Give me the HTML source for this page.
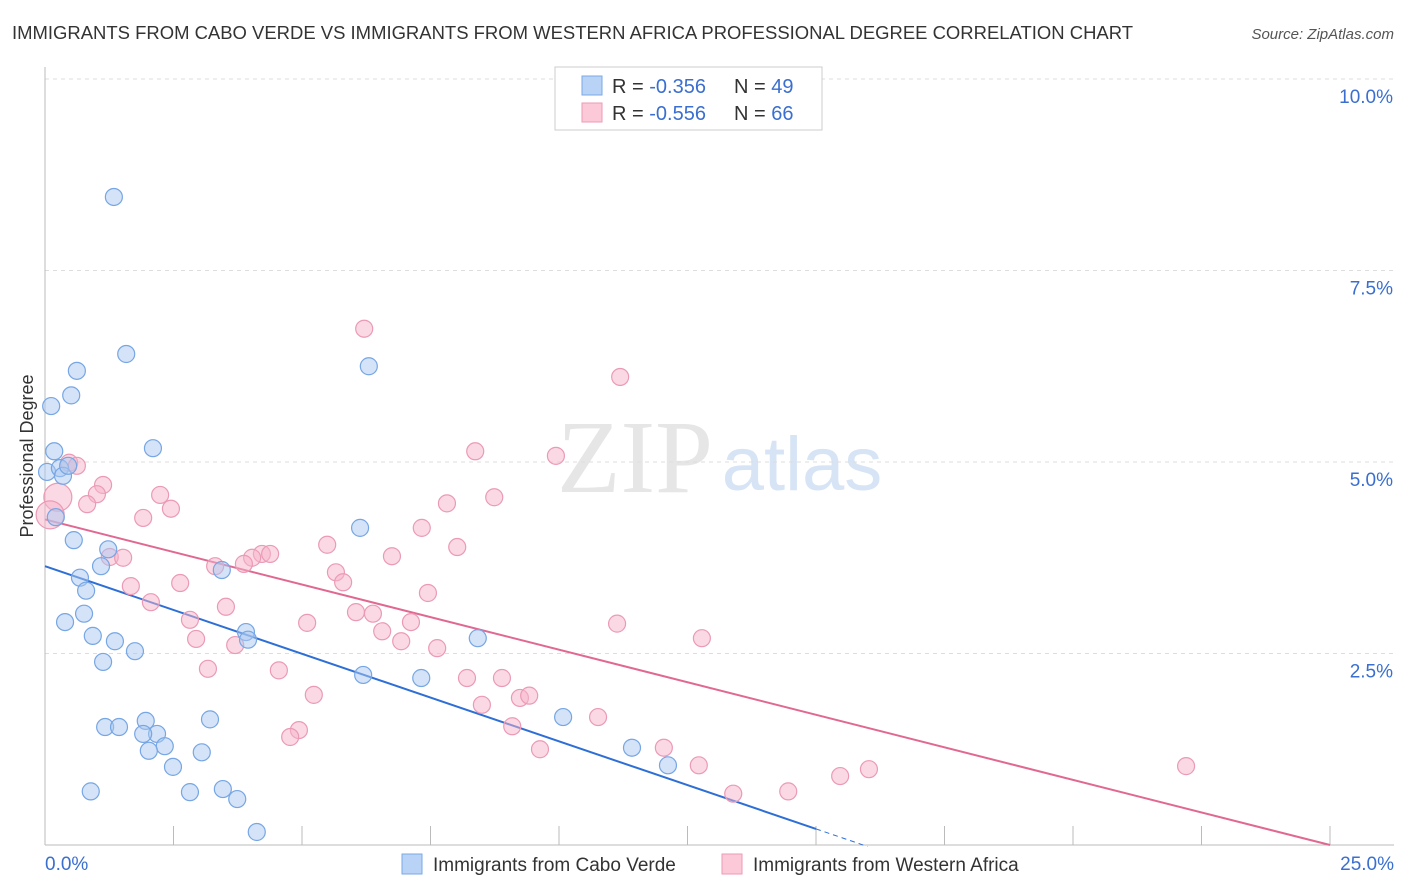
<!DOCTYPE html>
<html><head><meta charset="utf-8"><style>
body{margin:0;background:#fff;font-family:"Liberation Sans",sans-serif}
svg{display:block}
</style></head><body>
<svg id="chart" width="1406" height="892">
<text x="12" y="39" font-size="18" fill="#333" textLength="1121" lengthAdjust="spacingAndGlyphs">IMMIGRANTS FROM CABO VERDE VS IMMIGRANTS FROM WESTERN AFRICA PROFESSIONAL DEGREE CORRELATION CHART</text>
<text x="1394" y="39" font-size="15" fill="#555" font-style="italic" text-anchor="end">Source: ZipAtlas.com</text>
<text x="635" y="492" font-size="104" fill="#e6e6e6" text-anchor="middle" font-family="Liberation Serif,serif">ZIP</text>
<text x="802" y="490" font-size="76" fill="#d6e4f5" text-anchor="middle">atlas</text>
<g id="grid"></g><g id="axes"></g><g id="lines"></g><g id="pts"></g>
<text x="33" y="456" font-size="18" fill="#333" text-anchor="middle" transform="rotate(-90 33 456)">Professional Degree</text>
<g>
<rect x="555" y="67" width="267" height="63" fill="#fff" stroke="#ccc"/>
<rect x="582" y="76" width="20" height="19" fill="#b8d3f5" stroke="#7aa8e6"/>
<rect x="582" y="103" width="20" height="19" fill="#fbc9d8" stroke="#ec9ab5"/>
<text x="612" y="93" font-size="20" fill="#333">R = <tspan fill="#3a6fd0">-0.356</tspan><tspan x="734">N = </tspan><tspan fill="#3a6fd0">49</tspan></text>
<text x="612" y="120" font-size="20" fill="#333">R = <tspan fill="#3a6fd0">-0.556</tspan><tspan x="734">N = </tspan><tspan fill="#3a6fd0">66</tspan></text>
</g>
<g>
<rect x="402" y="854" width="20" height="20" fill="#b8d3f5" stroke="#7aa8e6"/>
<text x="433" y="871" font-size="19" fill="#333">Immigrants from Cabo Verde</text>
<rect x="722" y="854" width="20" height="20" fill="#fbc9d8" stroke="#ec9ab5"/>
<text x="753" y="871" font-size="19" fill="#333">Immigrants from Western Africa</text>
</g>
</svg>
<script>
const blueX=[1.34,1.58,0.62,0.51,0.12,0.18,2.10,0.04,0.29,0.35,0.45,0.21,0.56,1.23,0.68,1.09,0.80,3.44,0.76,0.39,0.93,1.36,1.75,1.13,3.91,3.95,6.13,6.30,8.42,6.19,7.32,10.08,11.42,12.12,1.17,1.44,1.96,2.18,1.91,2.33,2.02,2.49,3.05,3.21,0.89,2.82,3.46,3.74,4.12];
const blueY=[8.46,6.41,6.19,5.87,5.73,5.14,5.18,4.87,4.92,4.82,4.95,4.28,3.98,3.86,3.49,3.64,3.32,3.59,3.02,2.91,2.73,2.66,2.53,2.39,2.78,2.68,4.14,6.25,2.70,2.22,2.18,1.67,1.27,1.04,1.54,1.54,1.62,1.45,1.45,1.29,1.23,1.02,1.21,1.64,0.70,0.69,0.73,0.60,0.17];
const pinkX=[6.21,11.19,8.37,9.94,0.47,0.62,0.25,0.10,1.13,1.01,0.82,2.24,2.45,1.91,8.74,7.82,7.33,5.49,8.02,6.75,1.26,1.52,4.22,4.38,4.03,3.87,3.31,5.66,5.80,2.63,1.67,7.45,2.06,3.52,6.05,6.38,2.82,5.10,7.12,6.56,2.94,3.70,6.93,7.63,11.13,12.78,3.17,4.55,8.21,8.89,5.23,9.24,9.42,8.50,10.76,4.94,4.77,9.09,9.63,12.04,12.72,16.03,15.47,22.20,13.39,14.46];
const pinkY=[6.74,6.11,5.14,5.08,4.99,4.95,4.54,4.31,4.70,4.58,4.45,4.57,4.39,4.27,4.54,4.46,4.14,3.92,3.89,3.77,3.76,3.75,3.80,3.80,3.75,3.67,3.64,3.56,3.43,3.42,3.38,3.29,3.17,3.11,3.04,3.02,2.94,2.90,2.91,2.79,2.69,2.61,2.66,2.57,2.89,2.70,2.30,2.28,2.18,2.18,1.96,1.92,1.95,1.83,1.67,1.50,1.41,1.55,1.25,1.27,1.04,0.99,0.90,1.03,0.67,0.70];
const pinkBig=[0,0,0,0,0,0,1,1];
const blueTrend=[3.64,0.21];
const blueTrendX=[0,15,16];
const pinkTrend=[4.25,0.0];
const pinkTrendX=[0,25];
const yTicks=[2.5,5.0,7.5,10.0];
const yTickLabels=["2.5%","5.0%","7.5%","10.0%"];
const xTicks=[0,2.5,5,7.5,10,12.5,15,17.5,20,22.5,25];
const NS="http://www.w3.org/2000/svg";
const X=v=>45+v*51.4, Y=v=>845-v*76.6;
function mk(t,a,p){const e=document.createElementNS(NS,t);for(const k in a)e.setAttribute(k,a[k]);p.appendChild(e);return e;}
const grid=document.getElementById('grid'),axes=document.getElementById('axes');
yTicks.forEach((t,i)=>{
 const l=mk('line',{x1:45,x2:1394,y1:Y(t),y2:Y(t),stroke:'#ddd','stroke-dasharray':'4,4'},grid);
 
 
 const tx=mk('text',{x:1393,y:Y(t)+24,'font-size':19,fill:'#3a6fd0','text-anchor':'end'},axes);
 tx.textContent=yTickLabels[i];
 
 
});
mk('line',{x1:45,x2:45,y1:67,y2:845,stroke:'#bbb'},axes);
mk('line',{x1:45,x2:1394,y1:845,y2:845,stroke:'#bbb'},axes);
xTicks.forEach(t=>{const l=mk('line',{x1:X(t),x2:X(t),y1:826,y2:845,stroke:'#bbb'},axes);
 
 });
let a=mk('text',{x:45,y:870,'font-size':19,fill:'#3a6fd0'},axes);a.textContent='0.0%';


a=mk('text',{x:1394,y:870,'font-size':19,fill:'#3a6fd0','text-anchor':'end'},axes);a.textContent='25.0%';


const lines=document.getElementById('lines'),pts=document.getElementById('pts');
pinkX.forEach((x,i)=>{const c=mk('circle',{cx:X(x),cy:Y(pinkY[i]),r:pinkBig[i]?14:8.5,fill:'rgba(246,180,202,0.5)',stroke:'#eb9ab6','stroke-width':1.2},pts);
 
 });
blueX.forEach((x,i)=>{const c=mk('circle',{cx:X(x),cy:Y(blueY[i]),r:8.5,fill:'rgba(170,200,240,0.5)',stroke:'#76a6e4','stroke-width':1.2},pts);
 
 });
const bs=(blueTrend[1]-blueTrend[0])/(blueTrendX[1]-blueTrendX[0]);
let l=mk('line',{x1:X(blueTrendX[0]),y1:Y(blueTrend[0]),x2:X(blueTrendX[1]),y2:Y(blueTrend[1]),stroke:'#2e6fd6','stroke-width':2},lines);


l=mk('line',{x1:X(blueTrendX[1]),y1:Y(blueTrend[1]),x2:X(blueTrendX[2]),y2:Y(blueTrend[0]+bs*blueTrendX[2]),stroke:'#2e6fd6','stroke-width':1,'stroke-dasharray':'5,4'},lines);


l=mk('line',{x1:X(pinkTrendX[0]),y1:Y(pinkTrend[0]),x2:X(pinkTrendX[1]),y2:Y(pinkTrend[1]),stroke:'#e06892','stroke-width':2},lines);


</script>
</body></html>
